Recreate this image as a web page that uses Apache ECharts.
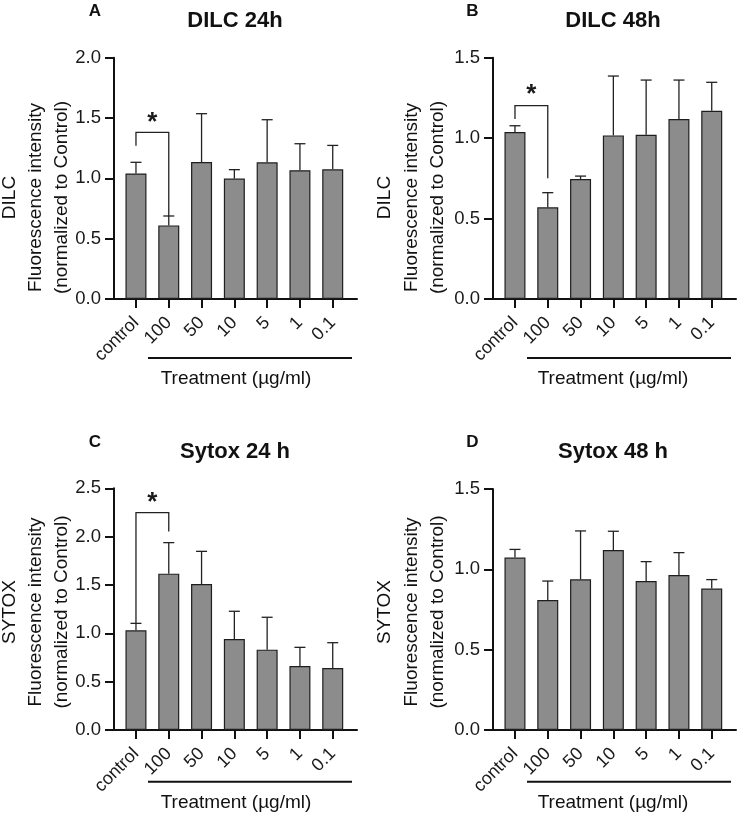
<!DOCTYPE html>
<html>
<head>
<meta charset="utf-8">
<script src="https://cdn.jsdelivr.net/npm/echarts@6/dist/echarts.min.js"></script>
<style>
html,body{margin:0;padding:0;background:#fff;}
#chart{width:740px;height:817px;}
</style>
</head>
<body>
<div id="chart"></div>
<script>
// ---- data ----
const categories = ['control', '100', '50', '10', '5', '1', '0.1'];

const dilc24Mean = [1.040, 0.610, 1.135, 0.998, 1.133, 1.067, 1.075];
const dilc24SD   = [0.093, 0.078, 0.401, 0.074, 0.353, 0.220, 0.198];

const dilc48Mean = [1.038, 0.570, 0.746, 1.017, 1.021, 1.119, 1.170];
const dilc48SD   = [0.039, 0.091, 0.018, 0.369, 0.340, 0.242, 0.177];

const sytox24Mean = [1.031, 1.617, 1.510, 0.941, 0.831, 0.662, 0.641];
const sytox24SD   = [0.072, 0.321, 0.338, 0.287, 0.335, 0.193, 0.262];

const sytox48Mean = [1.073, 0.809, 0.938, 1.120, 0.927, 0.965, 0.880];
const sytox48SD   = [0.051, 0.118, 0.301, 0.117, 0.121, 0.139, 0.056];

// significance brackets: [fromIdx, toIdx, topY, leftEndY, rightEndY, starY]
const dilc24Sig  = [0, 1, 1.381, 1.271, 0.688, 1.51];
const dilc48Sig  = [0, 1, 1.202, 1.119, 0.750, 1.305];
const sytox24Sig = [0, 1, 2.248, 1.103, 2.052, 2.41];

const panels = [
  {letter: 'A', title: 'DILC 24h',  yName: 'DILC',  max: 2.0, mean: dilc24Mean,  sd: dilc24SD,  sig: dilc24Sig},
  {letter: 'B', title: 'DILC 48h',  yName: 'DILC',  max: 1.5, mean: dilc48Mean,  sd: dilc48SD,  sig: dilc48Sig},
  {letter: 'C', title: 'Sytox 24 h', yName: 'SYTOX', max: 2.5, mean: sytox24Mean, sd: sytox24SD, sig: sytox24Sig},
  {letter: 'D', title: 'Sytox 48 h', yName: 'SYTOX', max: 1.5, mean: sytox48Mean, sd: sytox48SD, sig: null}
];

// ---- layout ----
const FONT = '"Liberation Sans", Arial, Helvetica, sans-serif';
const layout = [
  {left: 114, top: 57.7, h: 241.3, ox: 0,   oy: 0},
  {left: 493, top: 57.7, h: 241.3, ox: 378, oy: 0},
  {left: 114, top: 488.3, h: 241.7, ox: 0,  oy: 431},
  {left: 493, top: 489,  h: 241,   ox: 378, oy: 431}
];
const GW = 243;
const XMIN = -0.67, XMAX = 6.74;
const idx = categories.map((c, i) => i);

const chart = echarts.init(document.getElementById('chart'), null, {renderer: 'canvas'});

const grid = [], xAxis = [], yAxis = [], series = [], graphic = [];

panels.forEach((p, k) => {
  const L = layout[k];
  grid.push({left: L.left, top: L.top, width: GW, height: L.h, containLabel: false, outerBoundsMode: 'none'});
  xAxis.push({
    type: 'value', gridIndex: k, min: XMIN, max: XMAX,
    axisLine: {show: true, onZero: false, lineStyle: {color: '#111', width: 2}},
    axisTick: {show: true, customValues: idx, length: 9, lineStyle: {color: '#111', width: 2}},
    axisLabel: {show: true, customValues: idx, rotate: 45, margin: 21,
      fontSize: 18, fontFamily: FONT, color: '#1a1a1a',
      formatter: v => categories[Math.round(v)]},
    splitLine: {show: false}
  });
  yAxis.push({
    type: 'value', gridIndex: k, min: 0, max: p.max, interval: 0.5,
    axisLine: {show: true, onZero: false, lineStyle: {color: '#111', width: 2}},
    axisTick: {show: true, length: 9, lineStyle: {color: '#111', width: 2}},
    axisLabel: {fontSize: 18.5, fontFamily: FONT, color: '#1a1a1a', margin: 13,
      formatter: v => v.toFixed(1)},
    splitLine: {show: false}
  });
  series.push({
    type: 'bar', xAxisIndex: k, yAxisIndex: k,
    data: p.mean.map((v, i) => [i, v]),
    barWidth: 21,
    itemStyle: {color: '#8c8c8c', borderColor: '#1e1e1e', borderWidth: 1.2},
    silent: true, animation: false
  });
  series.push({
    type: 'custom', xAxisIndex: k, yAxisIndex: k,
    data: p.mean.map((v, i) => [i, v, p.sd[i]]),
    encode: {x: 0, y: 1},
    z: 5, clip: false, silent: true, animation: false,
    renderItem: (params, api) => {
      const x = api.value(0), m = api.value(1), s = api.value(2);
      const a = api.coord([x, m]), b = api.coord([x, m + s]);
      const st = {stroke: '#222', lineWidth: 1.3};
      return {type: 'group', children: [
        {type: 'line', shape: {x1: a[0], y1: a[1], x2: b[0], y2: b[1]}, style: st},
        {type: 'line', shape: {x1: b[0] - 5.5, y1: b[1], x2: b[0] + 5.5, y2: b[1]}, style: st}
      ]};
    }
  });
  if (p.sig) {
    series.push({
      type: 'custom', xAxisIndex: k, yAxisIndex: k,
      data: [p.sig],
      encode: {x: [0, 1], y: [2, 3, 4]},
      z: 6, clip: false, silent: true, animation: false,
      renderItem: (params, api) => {
        const x0 = api.value(0), x1 = api.value(1), yt = api.value(2),
              yl = api.value(3), yr = api.value(4), ys = api.value(5);
        const pl = api.coord([x0, yl]), ptl = api.coord([x0, yt]),
              ptr = api.coord([x1, yt]), pr = api.coord([x1, yr]);
        const ps = api.coord([(x0 + x1) / 2, ys]);
        return {type: 'group', children: [
          {type: 'polyline', shape: {points: [pl, ptl, ptr, pr]},
           style: {stroke: '#222', lineWidth: 1.3, fill: null}},
          {type: 'text', x: ps[0], y: ps[1] + 6,
           style: {text: '*', font: 'bold 26px ' + FONT, fill: '#1a1a1a',
                   align: 'center', verticalAlign: 'middle'}}
        ]};
      }
    });
  }

  // annotations
  const ox = L.ox, oy = L.oy;
  graphic.push({type: 'text', x: k % 2 ? 472.5 : 95, y: 11 + oy,
    style: {text: p.letter, font: 'bold 17px ' + FONT, fill: '#111', align: 'center', verticalAlign: 'middle'}});
  graphic.push({type: 'text', x: k % 2 ? 613 : 235, y: 21 + oy,
    style: {text: p.title, font: 'bold 22px ' + FONT, fill: '#111', align: 'center', verticalAlign: 'middle'}});
  const yc = k < 2 ? 197.5 : 612;
  const lx = k % 2 ? [385, 411.5, 438] : [10, 36, 61.5];
  const ylines = [p.yName, 'Fluorescence intensity', '(normalized to Control)'];
  ylines.forEach((t, j) => {
    graphic.push({type: 'text', x: lx[j], y: yc, rotation: Math.PI / 2,
      style: {text: t, font: '19px ' + FONT, fill: '#111', align: 'center', verticalAlign: 'middle'}});
  });
  const ul = k % 2 ? [527, 731] : [148, 352];
  const uy = k < 2 ? 358 : 781.7;
  graphic.push({type: 'line', shape: {x1: ul[0], y1: uy, x2: ul[1], y2: uy},
    style: {stroke: '#111', lineWidth: 2}});
  graphic.push({type: 'text', x: k % 2 ? 613 : 236, y: uy + 21,
    style: {text: 'Treatment (\u00b5g/ml)', font: '19px ' + FONT, fill: '#111', align: 'center', verticalAlign: 'middle'}});
});

chart.setOption({
  backgroundColor: '#ffffff',
  animation: false,
  grid, xAxis, yAxis, series, graphic
});
</script>
</body>
</html>
